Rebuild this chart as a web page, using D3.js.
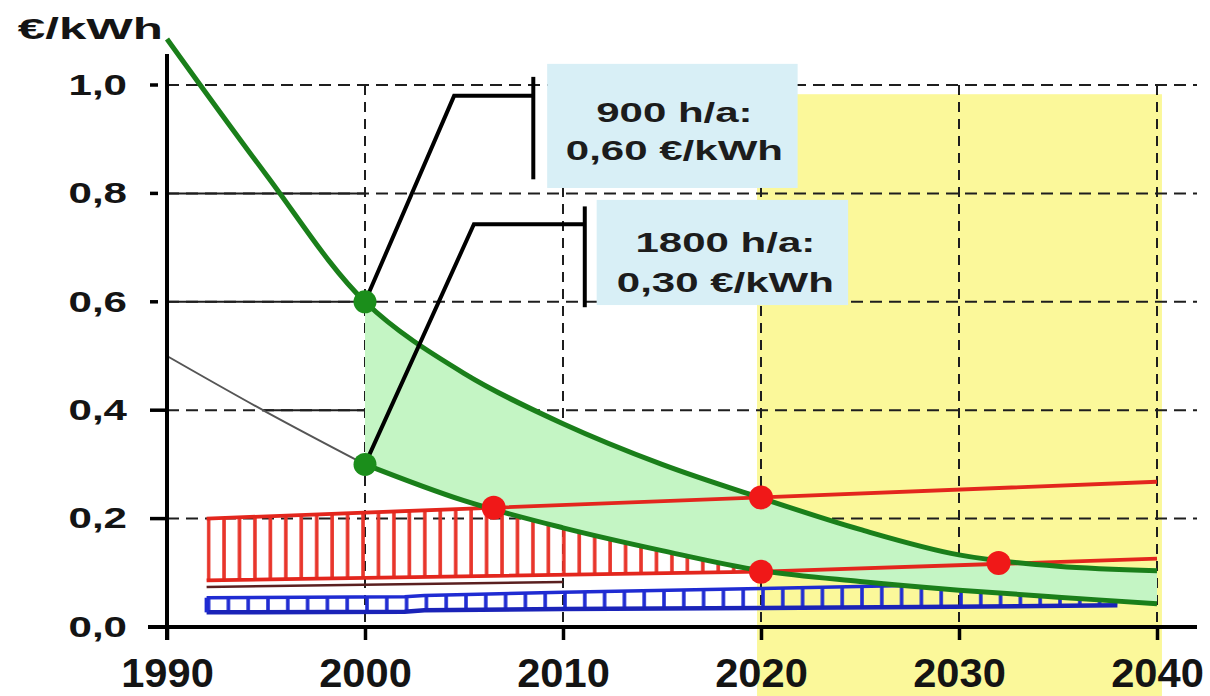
<!DOCTYPE html>
<html>
<head>
<meta charset="utf-8">
<script src="https://cdn.jsdelivr.net/npm/d3@7"></script>
<style>
  html, body { margin: 0; padding: 0; background: #ffffff; }
  svg { display: block; font-family: "Liberation Sans", Arial, sans-serif; }
</style>
</head>
<body>
<svg id="chart" width="1210" height="696"></svg>
<script>
// ---------------- data ----------------
const xTicks = [1990, 2000, 2010, 2020, 2030, 2040];
const yTicks = [0.0, 0.2, 0.4, 0.6, 0.8, 1.0];
const yUnit = "€/kWh";

// PV generation cost curves (€/kWh)
const years = [1990, 1995, 2000, 2005, 2010, 2015, 2020, 2025, 2030, 2035, 2040];
const cost900h  = [1.085, 0.835, 0.60, 0.468, 0.375, 0.300, 0.238, 0.180, 0.133, 0.112, 0.104];
const cost1800h = [0.50, 0.397, 0.30, 0.233, 0.183, 0.141, 0.104, 0.084, 0.068, 0.055, 0.043];

// electricity price band (red)
const priceYears = [1992, 2020, 2040];
const priceHigh  = [0.200, 0.239, 0.268];
const priceLow   = [0.086, 0.102, 0.126];
const darkYears  = [1992, 2010];
const darkLow    = [0.074, 0.083];

// blue band
const blueYears  = [1992, 2002, 2003, 2010, 2020, 2028, 2038];
const blueTop    = [0.054, 0.056, 0.058, 0.064, 0.071, 0.077, 0.078];
const blueBottom = [0.027, 0.028, 0.031, 0.033, 0.035, 0.037, 0.040];

// marked points
const greenDots = [{year: 2000, value: 0.60}, {year: 2000, value: 0.30}];
const redDots = [
  {year: 2006.5, value: 0.220},
  {year: 2020, value: 0.239},
  {year: 2020, value: 0.102},
  {year: 2032, value: 0.118}
];

// annotations
const notes = [
  {lines: ["900 h/a:", "0,60 €/kWh"], leader: [[2000, 0.60], [2004.5, 0.98], [2008.5, 0.98]],
   bar: {year: 2008.5, from: 1.015, to: 0.826}, box: {x0: 2009.2, x1: 2021.85, top: 1.039, bottom: 0.81}},
  {lines: ["1800 h/a:", "0,30 €/kWh"], leader: [[2000, 0.30], [2005.5, 0.743], [2011.1, 0.743]],
   bar: {year: 2011.1, from: 0.776, to: 0.59}, box: {x0: 2011.7, x1: 2024.4, top: 0.788, bottom: 0.594}}
];
const futureSpan = {from: 2019.8, to: 2040.25, top: 0.983};
const solidGrid = [{value: 0.8, from: 1990, to: 2000}, {value: 0.6, from: 1990, to: 2000}, {value: 0.4, from: 1994.8, to: 2000}];

// ---------------- drawing ----------------
const W = 1210, H = 696;
const svg = d3.select("#chart");
const x = d3.scaleLinear().domain([1990, 2040]).range([167, 1157]);
const y = d3.scaleLinear().domain([0, 1]).range([627, 85]);

const C = {
  green: "#1a7f1a", greenDot: "#1b8e1b", fill: "#c4f5c4", yellow: "#fbf89a", box: "#d8eff6",
  red: "#e3261d", redDot: "#f01818", hatch: "#e8352b", blue: "#1f2bd2", grid: "#1e1e1e", ink: "#141414"
};

svg.append("rect").attr("width", W).attr("height", H).attr("fill", "#ffffff");

const defs = svg.append("defs");
const rStep = x(1990.78) - x(1990);
const rp = defs.append("pattern").attr("id", "redHatch").attr("patternUnits", "userSpaceOnUse")
  .attr("x", x(1992)).attr("y", 0).attr("width", rStep).attr("height", H);
rp.append("line").attr("x1", 2).attr("x2", 2).attr("y1", 0).attr("y2", H)
  .attr("stroke", C.hatch).attr("stroke-width", 3.6);
const bStep = x(1991) - x(1990);
const bp = defs.append("pattern").attr("id", "blueHatch").attr("patternUnits", "userSpaceOnUse")
  .attr("x", x(1992)).attr("y", 0).attr("width", bStep).attr("height", H);
bp.append("line").attr("x1", 2).attr("x2", 2).attr("y1", 0).attr("y2", H)
  .attr("stroke", C.blue).attr("stroke-width", 3.6);

const curve = d3.curveCatmullRom.alpha(0.5);
const zipY = (xs, vs) => xs.map((t, i) => [t, vs[i]]);

// clip: below 1800 h/a curve
defs.append("clipPath").attr("id", "belowGreen").append("path")
  .attr("d", d3.area().x(d => x(d[0])).y0(y(-0.3)).y1(d => y(d[1])).curve(curve)(zipY(years, cost1800h)));
defs.append("clipPath").attr("id", "redBand").append("path")
  .attr("d", d3.area().x(t => x(t)).y0((t, i) => y(priceLow[i])).y1((t, i) => y(priceHigh[i]))(priceYears));
defs.append("clipPath").attr("id", "blueBand").append("path")
  .attr("d", d3.area().x(t => x(t)).y0((t, i) => y(blueBottom[i])).y1((t, i) => y(blueTop[i]))(blueYears));

// future (yellow) background
svg.append("rect").attr("x", x(futureSpan.from)).attr("y", y(futureSpan.top))
  .attr("width", x(futureSpan.to) - x(futureSpan.from)).attr("height", H - y(futureSpan.top))
  .attr("fill", C.yellow);

// grid
const grid = svg.append("g");
grid.selectAll("line.h").data(yTicks.filter(v => v > 0)).join("line")
  .attr("x1", x(1990)).attr("x2", x(2040) + 40).attr("y1", d => y(d)).attr("y2", d => y(d))
  .attr("stroke", C.grid).attr("stroke-width", 2).attr("stroke-dasharray", "12,7");
grid.selectAll("line.v").data(xTicks.filter(t => t > 1990)).join("line")
  .attr("x1", d => x(d)).attr("x2", d => x(d)).attr("y1", y(1)).attr("y2", y(0))
  .attr("stroke", C.grid).attr("stroke-width", 2).attr("stroke-dasharray", "10,7");
grid.selectAll("line.s").data(solidGrid).join("line")
  .attr("x1", d => x(d.from)).attr("x2", d => x(d.to)).attr("y1", d => y(d.value)).attr("y2", d => y(d.value))
  .attr("stroke", C.grid).attr("stroke-width", 2);

// green fill between the two cost curves (from 2000)
const sel = years.map((t, i) => ({t, hi: cost900h[i], lo: cost1800h[i]})).filter(d => d.t >= 2000);
svg.append("path").attr("fill", C.fill)
  .attr("d", d3.area().x(d => x(d.t)).y0(d => y(d.lo)).y1(d => y(d.hi)).curve(curve)(sel));

// red hatched band
const gr = svg.append("g").attr("clip-path", "url(#belowGreen)").append("g").attr("clip-path", "url(#redBand)");
gr.append("rect").attr("x", 0).attr("y", 0).attr("width", W).attr("height", H).attr("fill", "url(#redHatch)");
svg.append("path").attr("fill", "none").attr("stroke", "#5a2020").attr("stroke-width", 2.5)
  .attr("d", d3.line().x(t => x(t)).y((t, i) => y(darkLow[i]))(darkYears));

// blue hatched band
const gb = svg.append("g").attr("clip-path", "url(#belowGreen)");
gb.append("g").attr("clip-path", "url(#blueBand)")
  .append("rect").attr("x", 0).attr("y", 0).attr("width", W).attr("height", H).attr("fill", "url(#blueHatch)");
gb.append("path").attr("fill", "none").attr("stroke", C.blue).attr("stroke-width", 3.5)
  .attr("d", d3.line().x(t => x(t)).y((t, i) => y(blueTop[i]))(blueYears));
svg.append("path").attr("fill", "none").attr("stroke", "#1a23b8").attr("stroke-width", 4.5)
  .attr("d", d3.line().x(t => x(t)).y((t, i) => y(blueBottom[i]))(blueYears));
svg.append("line").attr("x1", x(blueYears[0])).attr("x2", x(blueYears[0]))
  .attr("y1", y(blueBottom[0])).attr("y2", y(blueTop[0])).attr("stroke", C.blue).attr("stroke-width", 4);

// red price lines
[priceHigh, priceLow].forEach(vals => {
  svg.append("path").attr("fill", "none").attr("stroke", C.red).attr("stroke-width", 3.8)
    .attr("d", d3.line().x(t => x(t)).y((t, i) => y(vals[i]))(priceYears));
});

// cost curves
const line = d3.line().x(d => x(d[0])).y(d => y(d[1])).curve(curve);
svg.append("path").attr("fill", "none").attr("stroke", C.green).attr("stroke-width", 5)
  .attr("d", line(zipY(years, cost900h)));
const low = zipY(years, cost1800h);
svg.append("path").attr("fill", "none").attr("stroke", "#555555").attr("stroke-width", 2)
  .attr("d", line(low.filter(d => d[0] <= 2000)));
svg.append("path").attr("fill", "none").attr("stroke", C.green).attr("stroke-width", 5)
  .attr("d", line(low.filter(d => d[0] >= 2000)));

// axes
svg.append("line").attr("x1", x(1990) - 19).attr("x2", x(2040) + 40).attr("y1", y(0)).attr("y2", y(0))
  .attr("stroke", "#000").attr("stroke-width", 4);
svg.append("line").attr("x1", x(1990)).attr("x2", x(1990)).attr("y1", y(1) - 31).attr("y2", y(0) + 13)
  .attr("stroke", "#000").attr("stroke-width", 4);

const xAxis = svg.append("g").attr("transform", `translate(0,${y(0)})`)
  .call(d3.axisBottom(x).tickValues(xTicks).tickFormat(d => String(d)).tickSize(13));
xAxis.select(".domain").remove();
xAxis.selectAll(".tick line").attr("stroke", "#000").attr("stroke-width", 3.5);
xAxis.selectAll(".tick text").attr("y", 60).attr("dy", 0).attr("fill", C.ink)
  .style("font-size", "40px").style("font-weight", "bold").style("font-family", "'Liberation Sans', Arial, sans-serif");

const yAxis = svg.append("g").attr("transform", `translate(${x(1990)},0)`)
  .call(d3.axisLeft(y).tickValues(yTicks).tickFormat(d => d.toFixed(1).replace(".", ",")).tickSize(0).tickPadding(40));
yAxis.select(".domain").remove();
yAxis.selectAll(".tick text").attr("fill", C.ink)
  .style("font-size", "29px").style("font-weight", "bold").style("font-family", "'Liberation Sans', Arial, sans-serif");
svg.selectAll("line.ytick").data(yTicks).join("line")
  .attr("x1", x(1990) - 17).attr("x2", d => d >= 0.6 ? x(1990) - 9 : x(1990))
  .attr("y1", d => y(d)).attr("y2", d => y(d)).attr("stroke", "#000").attr("stroke-width", 3.5);

function stretch(selection, factor) {
  selection.each(function () {
    const len = this.getComputedTextLength();
    d3.select(this).attr("textLength", len * factor).attr("lengthAdjust", "spacingAndGlyphs");
  });
}
stretch(yAxis.selectAll(".tick text"), 1.45);
stretch(xAxis.selectAll(".tick text"), 1.04);

svg.append("text").attr("x", x(1990) - 4).attr("y", 39).attr("text-anchor", "end")
  .attr("fill", C.ink).style("font-size", "29px").style("font-weight", "bold").text(yUnit)
  .call(s => stretch(s, 1.7));

// annotation boxes, leaders and labels
notes.forEach((n, k) => {
  const b = n.box;
  svg.append("rect").attr("x", x(b.x0)).attr("y", y(b.top)).attr("width", x(b.x1) - x(b.x0))
    .attr("height", y(b.bottom) - y(b.top)).attr("fill", C.box);
  svg.append("path").attr("fill", "none").attr("stroke", "#000").attr("stroke-width", 4)
    .attr("d", d3.line().x(d => x(d[0])).y(d => y(d[1]))(n.leader));
  svg.append("line").attr("x1", x(n.bar.year)).attr("x2", x(n.bar.year))
    .attr("y1", y(n.bar.from)).attr("y2", y(n.bar.to)).attr("stroke", "#000").attr("stroke-width", 4);
  const cx = (x(b.x0) + x(b.x1)) / 2 + (k === 1 ? 3 : 2);
  const offs = k === 0 ? [58, 96] : [52, 92];
  n.lines.forEach((txt, j) => {
    svg.append("text").attr("x", cx).attr("y", y(b.top) + offs[j]).attr("text-anchor", "middle")
      .attr("fill", "#1c1c1c").style("font-size", "28px").style("font-weight", "bold").text(txt)
      .call(s => stretch(s, 1.5));
  });
});

// dots
svg.selectAll("circle.g").data(greenDots).join("circle")
  .attr("cx", d => x(d.year)).attr("cy", d => y(d.value)).attr("r", 11.5).attr("fill", C.greenDot);
svg.selectAll("circle.r").data(redDots).join("circle")
  .attr("cx", d => x(d.year)).attr("cy", d => y(d.value)).attr("r", 12).attr("fill", C.redDot);
</script>
</body>
</html>
